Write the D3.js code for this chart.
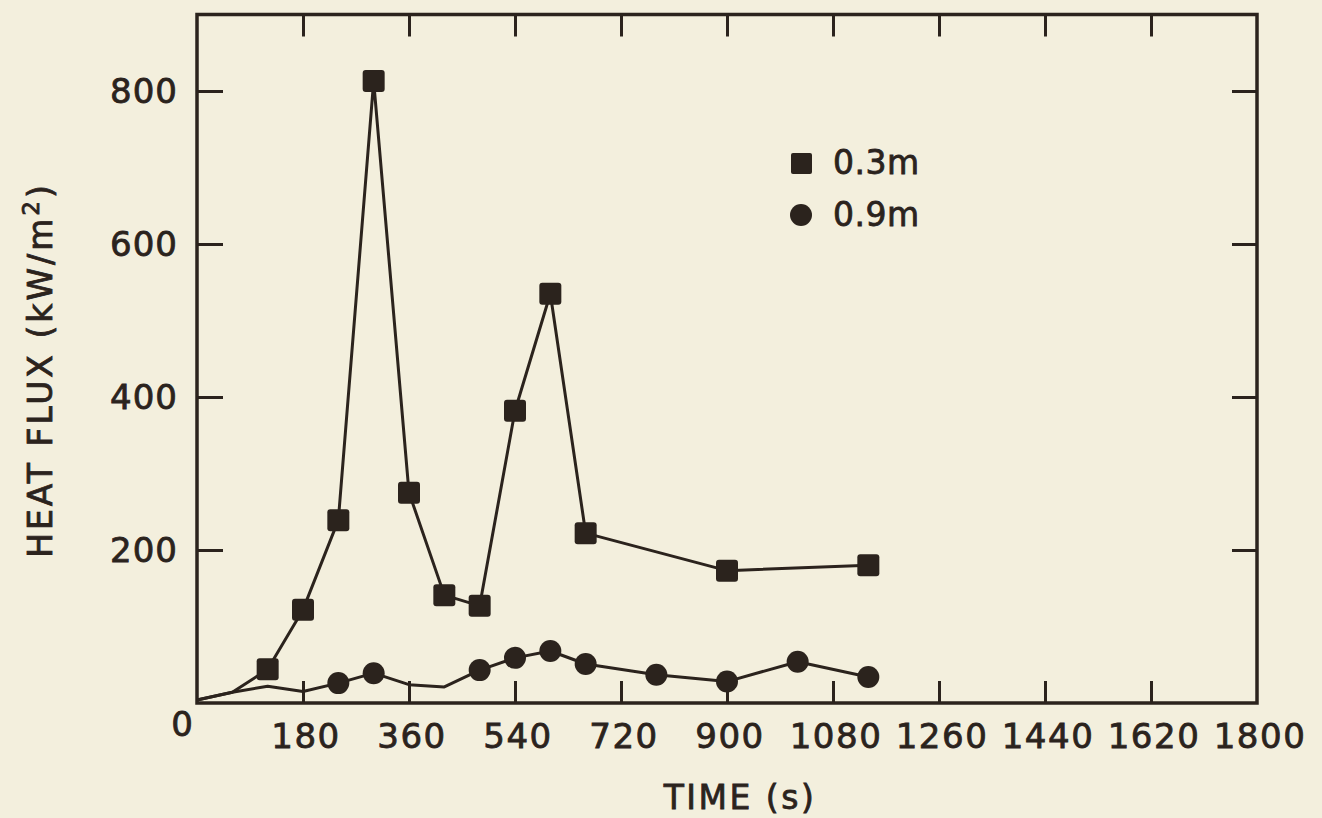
<!DOCTYPE html>
<html>
<head>
<meta charset="utf-8">
<script src="https://cdn.jsdelivr.net/npm/d3@7"></script>
<style>
  html, body { margin: 0; padding: 0; background: #f3efdd; }
  svg { display: block; }
  text { font-family: "DejaVu Sans", sans-serif; fill: #2b231d; stroke: #2b231d; stroke-width: 0.8px; }
</style>
</head>
<body>
<svg id="chart"></svg>
<script>
// data
const seriesNames = ["0.3m", "0.9m"];

const time03 = [0, 60, 120, 180, 240, 300, 360, 420, 480, 540, 600, 660, 900, 1140];
const flux03 = [4, 14, 44, 122, 239, 813, 275, 141, 127, 382, 535, 222, 173, 180];
const mark03 = [false, false, true, true, true, true, true, true, true, true, true, true, true, true];

const time09 = [0, 60, 120, 180, 240, 300, 360, 420, 480, 540, 600, 660, 780, 900, 1020, 1140];
const flux09 = [4, 14, 22, 15, 26, 39, 24, 21, 43, 59, 68, 51, 37, 28, 54, 34];
const mark09 = [false, false, false, false, true, true, false, false, true, true, true, true, true, true, true, true];

const xTicks = [180, 360, 540, 720, 900, 1080, 1260, 1440, 1620, 1800];
const yTicks = [200, 400, 600, 800];

const ink = "#2b231d";
const width = 1322;
const height = 818;

const svg = d3.select("#chart").attr("width", width).attr("height", height);

const x = d3.scaleLinear().domain([0, 1800]).range([197, 1257]);
const y = d3.scaleLinear().domain([0, 900]).range([703, 14.5]);

const toRows = (t, v, m) => t.map((d, i) => ({ t: d, v: v[i], m: m[i] }));
const s03 = toRows(time03, flux03, mark03);
const s09 = toRows(time09, flux09, mark09);

// axes (ticks point inward)
const styleAxis = (g) => {
  g.select(".domain").remove();
  g.selectAll(".tick line").attr("stroke", ink).attr("stroke-width", 3);
};

svg.append("g")
  .attr("transform", `translate(0, ${y(0)})`)
  .call(d3.axisBottom(x).tickValues(xTicks.slice(0, -1)).tickSize(-22).tickFormat(""))
  .call(styleAxis);

svg.append("g")
  .attr("transform", `translate(0, ${y(900)})`)
  .call(d3.axisTop(x).tickValues(xTicks.slice(0, -1)).tickSize(-22).tickFormat(""))
  .call(styleAxis);

svg.append("g")
  .attr("transform", `translate(${x(0)}, 0)`)
  .call(d3.axisLeft(y).tickValues(yTicks).tickSize(-26).tickFormat(""))
  .call(styleAxis);

svg.append("g")
  .attr("transform", `translate(${x(1800)}, 0)`)
  .call(d3.axisRight(y).tickValues(yTicks).tickSize(-25).tickFormat(""))
  .call(styleAxis);

// frame
svg.append("rect")
  .attr("x", x(0)).attr("y", y(900))
  .attr("width", x(1800) - x(0)).attr("height", y(0) - y(900))
  .attr("fill", "none").attr("stroke", ink).attr("stroke-width", 3.5);

// tick labels
svg.append("g").selectAll("text")
  .data(xTicks)
  .join("text")
  .attr("x", (d) => x(d) + 3)
  .attr("y", 748)
  .attr("text-anchor", "middle")
  .style("font-size", "34px")
  .style("letter-spacing", "1.5px")
  .text((d) => d);

svg.append("g").selectAll("text")
  .data(yTicks)
  .join("text")
  .attr("x", x(0) - 19)
  .attr("y", (d) => y(d) + 12)
  .attr("text-anchor", "end")
  .style("font-size", "34px")
  .style("letter-spacing", "1px")
  .text((d) => d);

svg.append("text")
  .attr("x", x(0) - 15)
  .attr("y", y(0) + 33)
  .attr("text-anchor", "middle")
  .style("font-size", "34px")
  .text("0");

// axis titles
svg.append("text")
  .attr("x", 740)
  .attr("y", 809)
  .attr("text-anchor", "middle")
  .style("font-size", "33px")
  .style("letter-spacing", "2.5px")
  .text("TIME (s)");

const yTitle = svg.append("text")
  .attr("transform", "translate(52, 370) rotate(-90)")
  .attr("text-anchor", "middle")
  .style("font-size", "33px")
  .style("letter-spacing", "3px");
yTitle.append("tspan").text("HEAT FLUX (kW/m");
yTitle.append("tspan").attr("dy", -13).style("font-size", "23px").text("2");
yTitle.append("tspan").attr("dy", 13).text(")");

// lines
const line = d3.line().x((d) => x(d.t)).y((d) => y(d.v));

[s03, s09].forEach((s) => {
  svg.append("path")
    .datum(s)
    .attr("d", line)
    .attr("fill", "none")
    .attr("stroke", ink)
    .attr("stroke-width", 3)
    .attr("stroke-linejoin", "round");
});

// markers
const sq = 22;
svg.append("g").selectAll("rect")
  .data(s03.filter((d) => d.m))
  .join("rect")
  .attr("x", (d) => x(d.t) - sq / 2)
  .attr("y", (d) => y(d.v) - sq / 2)
  .attr("width", sq).attr("height", sq)
  .attr("rx", 3)
  .attr("fill", ink);

svg.append("g").selectAll("circle")
  .data(s09.filter((d) => d.m))
  .join("circle")
  .attr("cx", (d) => x(d.t))
  .attr("cy", (d) => y(d.v))
  .attr("r", 11)
  .attr("fill", ink);

// legend
const legend = svg.append("g");
legend.append("rect")
  .attr("x", 791).attr("y", 153).attr("width", 21).attr("height", 21).attr("rx", 2)
  .attr("fill", ink);
legend.append("circle")
  .attr("cx", 801).attr("cy", 215).attr("r", 11)
  .attr("fill", ink);
legend.selectAll("text")
  .data(seriesNames)
  .join("text")
  .attr("x", 833)
  .attr("y", (d, i) => 174 + i * 52)
  .style("font-size", "33px")
  .style("letter-spacing", "0.5px")
  .text((d) => d);
</script>
</body>
</html>
